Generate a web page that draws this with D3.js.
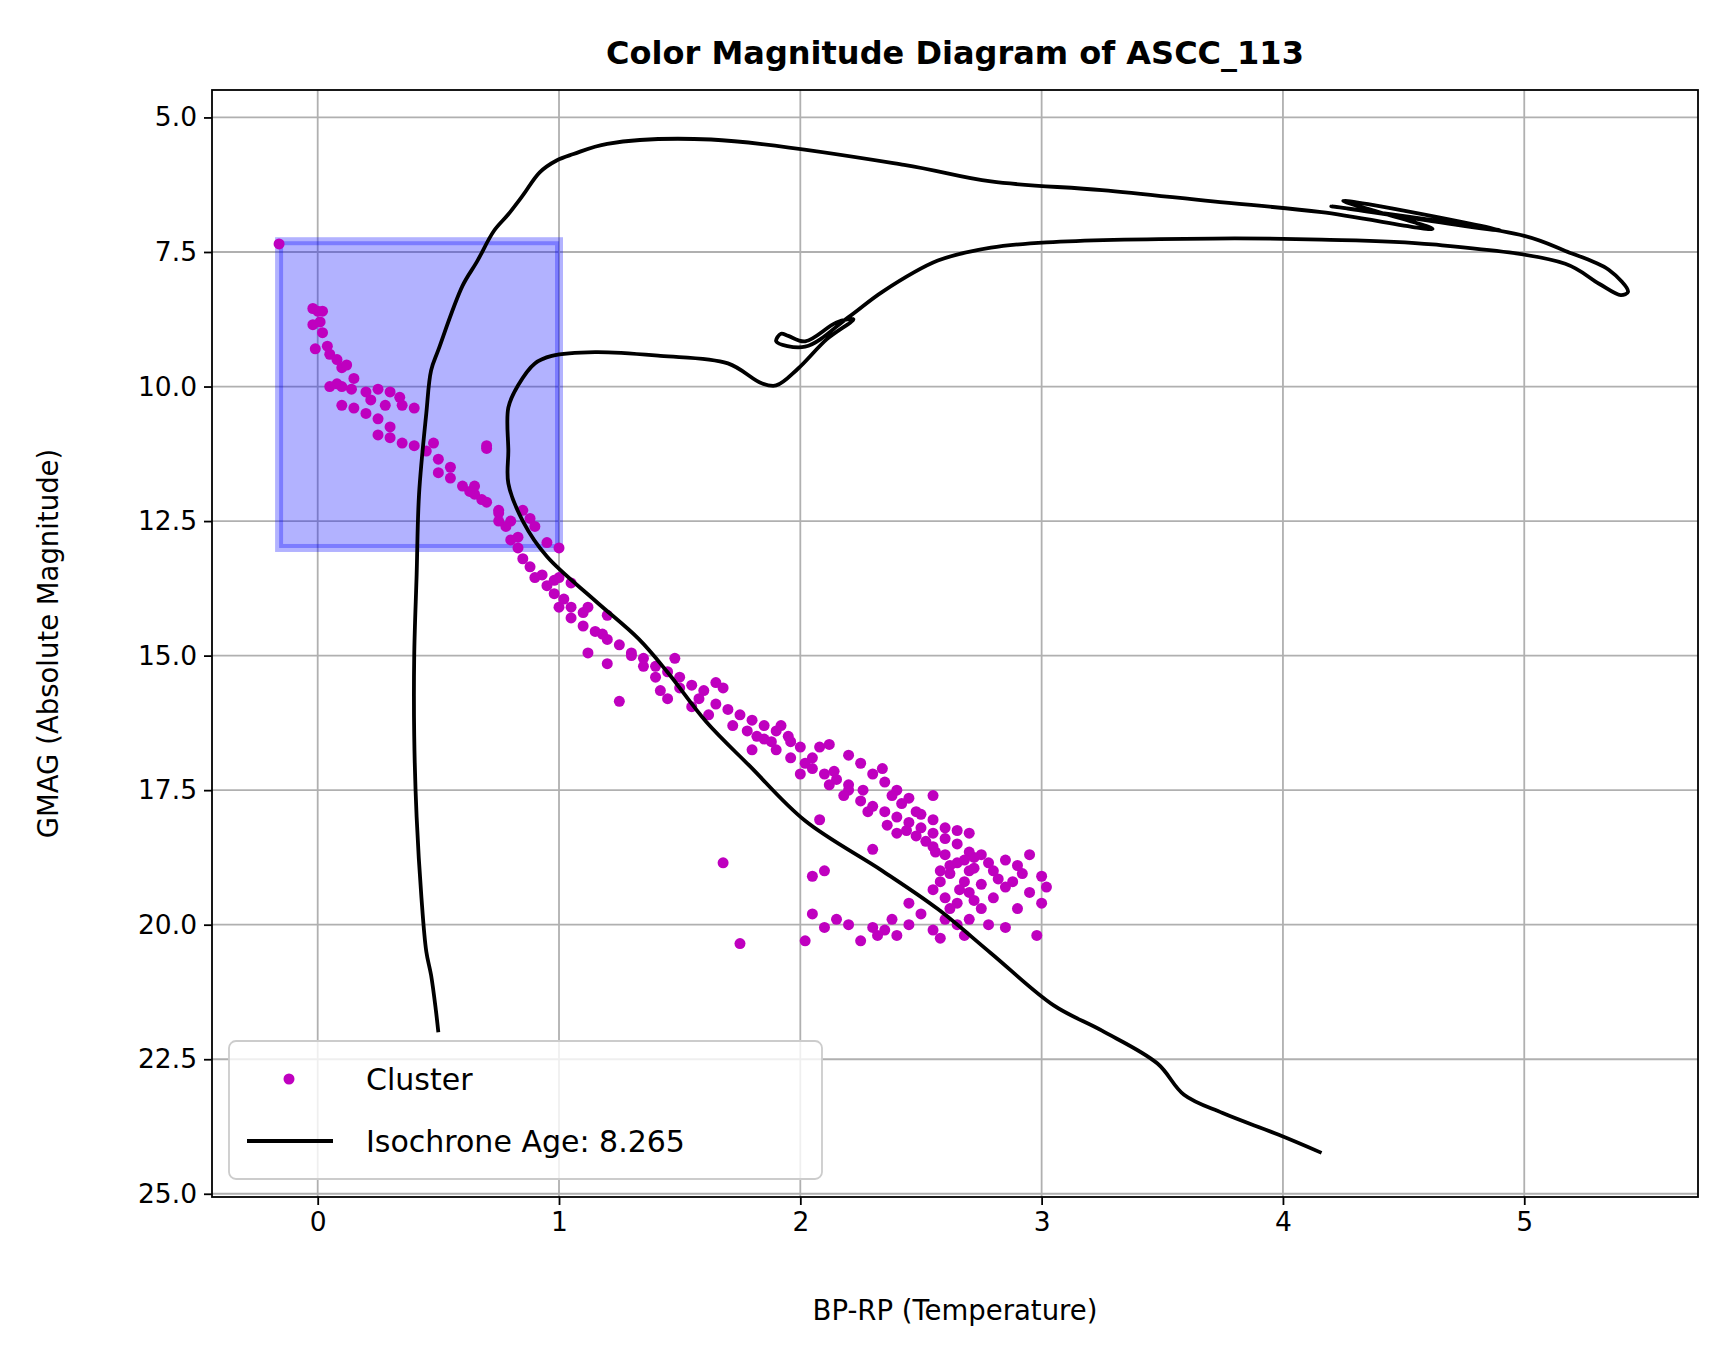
<!DOCTYPE html><html><head><meta charset="utf-8"><script src="https://cdn.jsdelivr.net/npm/d3@7"></script>
<style>body{margin:0;background:#fff}text{font-family:"DejaVu Sans",sans-serif}</style></head><body><svg id="c" width="1728" height="1361"></svg><script>
const xTicks=[0,1,2,3,4,5];
const yTicks=[5.0,7.5,10.0,12.5,15.0,17.5,20.0,22.5,25.0];
const boxX=[-0.16,1.0], boxY=[7.3,13.0];
const isoX=[0.50,0.49,0.47,0.45,0.43,0.41,0.40,0.40,0.41,0.42,0.45,0.47,0.50,0.60,0.66,0.73,0.79,0.85,0.92,0.99,1.06,1.20,1.63,2.43,2.79,3.25,3.71,4.16,4.62,4.25,4.9,4.2,5.0,5.17,5.35,5.43,5.40,5.31,5.17,4.62,4.16,3.71,3.02,2.79,2.57,2.34,2.20,2.02,1.90,1.92,1.95,2.02,2.15,2.22,2.11,1.99,1.90,1.84,1.70,1.42,1.15,0.97,0.90,0.83,0.79,0.79,0.79,0.85,0.95,1.15,1.33,1.45,1.61,1.79,2.02,2.34,2.57,2.79,3.05,3.25,3.48,3.59,3.75,3.98,4.16];
const isoY=[22.0,21.6,20.94,20.5,19.5,18.0,16.5,15.0,13.5,12.0,10.5,9.7,9.32,8.13,7.68,7.11,6.8,6.45,6.02,5.8,5.68,5.49,5.41,5.88,6.19,6.35,6.56,6.76,7.07,6.55,7.1,6.65,7.2,7.48,7.83,8.24,8.30,8.09,7.72,7.36,7.27,7.25,7.32,7.42,7.66,8.24,8.71,9.26,9.16,9.02,9.06,9.16,8.81,8.75,9.12,9.67,9.98,9.94,9.57,9.43,9.36,9.43,9.57,9.98,10.39,11.2,11.8,12.5,13.16,13.98,14.69,15.31,16.23,17.05,18.07,19.0,19.71,20.53,21.5,21.97,22.58,23.16,23.5,23.9,24.24];
const pts=[[-0.16,7.35],[-0.02,8.55],[0.0,8.6],[0.02,8.6],[-0.02,8.85],[0.01,8.8],[0.02,9.0],[-0.01,9.3],[0.04,9.25],[0.05,9.4],[0.08,9.5],[0.1,9.65],[0.12,9.6],[0.15,9.85],[0.05,10.0],[0.08,9.95],[0.1,10.0],[0.14,10.05],[0.2,10.1],[0.25,10.05],[0.3,10.1],[0.34,10.2],[0.22,10.25],[0.28,10.35],[0.35,10.35],[0.4,10.4],[0.1,10.35],[0.15,10.4],[0.2,10.5],[0.25,10.6],[0.3,10.75],[0.25,10.9],[0.3,10.95],[0.35,11.05],[0.4,11.1],[0.45,11.2],[0.5,11.35],[0.55,11.5],[0.48,11.05],[0.7,11.15],[0.5,11.6],[0.55,11.7],[0.6,11.85],[0.65,12.0],[0.7,12.15],[0.75,12.3],[0.8,12.5],[0.63,11.95],[0.68,12.1],[0.78,12.6],[0.85,12.3],[0.88,12.45],[0.83,12.8],[0.9,12.6],[0.95,12.9],[1.0,13.0],[0.75,12.35],[0.8,12.85],[0.83,13.0],[0.85,13.2],[0.88,13.35],[0.93,13.5],[0.98,13.6],[1.0,13.55],[1.05,13.65],[0.9,13.55],[0.95,13.7],[0.98,13.85],[1.02,13.95],[1.05,14.1],[1.1,14.2],[1.0,14.1],[1.05,14.3],[1.1,14.45],[1.15,14.55],[1.2,14.7],[1.12,14.1],[1.2,14.25],[1.18,14.6],[1.25,14.8],[1.3,14.95],[1.35,15.05],[1.4,15.2],[1.45,15.3],[1.48,15.05],[1.5,15.4],[1.55,15.55],[1.6,15.65],[1.3,15.0],[1.35,15.2],[1.4,15.4],[1.5,15.6],[1.58,15.8],[1.65,15.9],[1.7,16.0],[1.75,16.1],[1.8,16.2],[1.85,16.3],[1.9,16.4],[1.95,16.5],[1.65,15.5],[1.68,15.6],[1.72,16.3],[1.78,16.4],[1.82,16.5],[1.88,16.6],[1.92,16.3],[1.96,16.6],[2.0,16.7],[2.02,17.0],[2.05,17.1],[2.1,17.2],[2.15,17.3],[2.2,17.4],[2.05,16.9],[2.08,16.7],[2.12,16.65],[2.2,16.85],[2.25,17.0],[2.3,17.2],[2.35,17.35],[2.4,17.5],[2.45,17.65],[2.2,17.5],[2.25,17.7],[2.3,17.8],[2.35,17.9],[2.4,18.0],[2.45,18.1],[2.5,18.2],[2.55,18.3],[2.6,18.4],[2.08,18.05],[2.3,18.6],[2.5,17.95],[2.55,18.05],[2.6,18.2],[2.65,18.5],[2.7,18.65],[2.75,18.7],[2.55,18.55],[2.6,18.7],[2.65,18.85],[2.7,19.0],[2.62,19.05],[2.58,19.2],[2.55,19.35],[2.6,19.5],[2.65,19.6],[2.7,19.4],[2.75,19.25],[2.8,19.0],[2.85,18.8],[2.9,18.9],[2.95,18.7],[3.0,19.1],[3.02,19.3],[2.85,19.3],[2.8,19.5],[2.75,19.7],[2.7,19.9],[2.65,20.0],[2.6,19.9],[2.55,20.1],[2.5,19.8],[2.45,19.6],[2.55,17.6],[2.65,18.25],[2.7,18.3],[2.48,17.9],[2.42,17.75],[2.38,17.6],[2.34,17.1],[2.72,18.95],[2.68,19.2],[2.66,19.35],[2.62,19.7],[2.68,20.2],[2.58,20.25],[2.95,19.4],[3.0,19.6],[2.98,20.2],[2.9,19.7],[2.85,20.05],[2.78,20.0],[2.72,19.55],[2.45,20.0],[2.4,20.2],[2.35,20.1],[2.3,20.05],[2.2,20.0],[2.15,19.9],[2.1,20.05],[2.05,19.8],[2.02,20.3],[2.25,20.3],[2.38,19.9],[2.32,20.2],[2.1,19.0],[2.05,19.1],[1.68,18.85],[1.75,20.35],[0.7,11.1],[0.65,11.85],[0.75,12.5],[2.58,19.0],[2.62,18.9],[2.68,18.8],[2.72,18.75],[2.78,18.85],[2.82,19.15],[2.88,19.2],[2.92,19.05],[2.48,18.35],[2.52,18.45],[2.56,18.65],[2.44,18.25],[2.4,18.3],[2.36,18.15],[2.28,17.9],[2.26,17.5],[2.18,17.6],[2.14,17.15],[2.12,17.4],[2.0,17.2],[1.96,16.9],[1.9,16.75],[1.85,16.55],[1.8,16.75],[1.62,16.1],[1.55,15.95],[1.45,15.8],[1.42,15.65],[1.25,15.85],[1.2,15.15],[1.12,14.95]];
const svg=d3.select("#c");
const L=212,R=1698,T=90,B=1197;
const x=d3.scaleLinear().domain([-0.438,5.72]).range([L,R]);
const y=d3.scaleLinear().domain([4.49,25.06]).range([T,B]);
const g=svg.append("g");
xTicks.forEach(t=>g.append("line").attr("x1",x(t)).attr("x2",x(t)).attr("y1",T).attr("y2",B).attr("stroke","#b0b0b0").attr("stroke-width",1.8));
yTicks.forEach(t=>g.append("line").attr("y1",y(t)).attr("y2",y(t)).attr("x1",L).attr("x2",R).attr("stroke","#b0b0b0").attr("stroke-width",1.8));
svg.append("rect").attr("x",x(boxX[0])).attr("y",y(boxY[0])).attr("width",x(boxX[1])-x(boxX[0])).attr("height",y(boxY[1])-y(boxY[0])).attr("fill","rgba(0,0,255,0.3)").attr("stroke","rgba(0,0,255,0.3)").attr("stroke-width",8);
svg.append("g").selectAll("circle").data(pts).join("circle").attr("cx",d=>x(d[0])).attr("cy",d=>y(d[1])).attr("r",5.5).attr("fill","#bf00bf");
svg.append("path").datum(d3.range(isoX.length)).attr("d",d3.line().x(i=>x(isoX[i])).y(i=>y(isoY[i])).curve(d3.curveCatmullRom.alpha(0.5))).attr("fill","none").attr("stroke","#000").attr("stroke-width",3.8);
const xa=svg.append("g").attr("transform",`translate(0,${B})`).call(d3.axisBottom(x).tickValues(xTicks).tickFormat(d3.format("d")).tickSize(8).tickPadding(7));
const ya=svg.append("g").attr("transform",`translate(${L},0)`).call(d3.axisLeft(y).tickValues(yTicks).tickFormat(d3.format(".1f")).tickSize(8).tickPadding(7));
[xa,ya].forEach(a=>{a.selectAll("text").attr("font-size",26.5).attr("fill","#000");a.select(".domain").remove();a.selectAll("line").attr("stroke-width",1.8)});
svg.append("rect").attr("x",L).attr("y",T).attr("width",R-L).attr("height",B-T).attr("fill","none").attr("stroke","#000").attr("stroke-width",1.8);
svg.append("text").attr("x",(L+R)/2).attr("y",64).attr("text-anchor","middle").attr("font-size",32).attr("font-weight","bold").text("Color Magnitude Diagram of ASCC_113");
svg.append("text").attr("x",(L+R)/2).attr("y",1320).attr("text-anchor","middle").attr("font-size",27.5).text("BP-RP (Temperature)");
svg.append("text").attr("transform",`translate(58,${(T+B)/2}) rotate(-90)`).attr("text-anchor","middle").attr("font-size",27.5).text("GMAG (Absolute Magnitude)");
const lg=svg.append("g");
lg.append("rect").attr("x",229).attr("y",1041).attr("width",593).attr("height",138).attr("rx",7).attr("fill","rgba(255,255,255,0.8)").attr("stroke","#ccc").attr("stroke-width",1.8);
lg.append("circle").attr("cx",289).attr("cy",1079).attr("r",5.5).attr("fill","#bf00bf");
lg.append("line").attr("x1",247).attr("x2",333).attr("y1",1141).attr("y2",1141).attr("stroke","#000").attr("stroke-width",3.8);
lg.append("text").attr("x",366).attr("y",1090).attr("font-size",30).text("Cluster");
lg.append("text").attr("x",366).attr("y",1152).attr("font-size",30).text("Isochrone Age: 8.265");
</script></body></html>
